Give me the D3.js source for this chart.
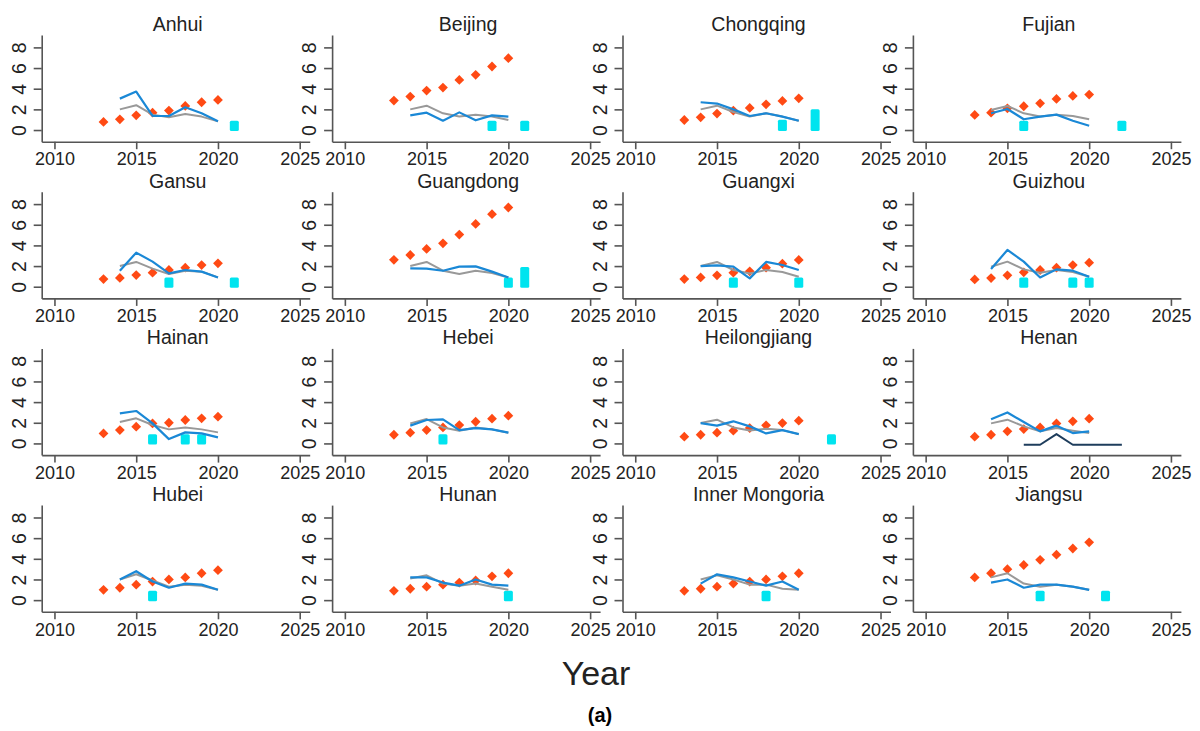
<!DOCTYPE html>
<html>
<head>
<meta charset="utf-8">
<script src="https://cdn.jsdelivr.net/npm/d3@7"></script>
<style>
  html, body { margin: 0; padding: 0; background: #fff; }
  svg { display: block; font-family: Arial, "Liberation Sans", Helvetica, sans-serif; }
</style>
</head>
<body>
<svg id="chart" width="1200" height="731"></svg>
<script>
// Provinces, one small multiple each (4 x 4 grid)
const provinces = [
  "Anhui", "Beijing", "Chongqing", "Fujian",
  "Gansu", "Guangdong", "Guangxi", "Guizhou",
  "Hainan", "Hebei", "Heilongjiang", "Henan",
  "Hubei", "Hunan", "Inner Mongoria", "Jiangsu"
];

// Years for the diamond series and for the two line series
const diamondYears = [2013, 2014, 2015, 2016, 2017, 2018, 2019, 2020];
const lineYears = [2014, 2015, 2016, 2017, 2018, 2019, 2020];

// Orange diamonds
const diamondValues = [
  [0.78, 1.04, 1.42, 1.68, 1.88, 2.33, 2.69, 2.91],
  [2.85, 3.24, 3.82, 4.11, 4.85, 5.34, 6.15, 6.96],
  [0.97, 1.23, 1.59, 1.88, 2.14, 2.49, 2.82, 3.07],
  [1.46, 1.68, 2.10, 2.30, 2.59, 3.01, 3.30, 3.43],
  [0.74, 0.85, 1.13, 1.36, 1.62, 1.84, 2.10, 2.27],
  [2.60, 3.07, 3.66, 4.20, 5.05, 6.08, 7.02, 7.67],
  [0.74, 0.90, 1.10, 1.36, 1.49, 1.84, 2.23, 2.59],
  [0.71, 0.84, 1.10, 1.39, 1.62, 1.84, 2.10, 2.33],
  [0.97, 1.29, 1.62, 1.94, 2.00, 2.27, 2.43, 2.59],
  [0.84, 1.04, 1.29, 1.55, 1.78, 2.10, 2.40, 2.69],
  [0.65, 0.84, 1.04, 1.23, 1.49, 1.75, 1.97, 2.20],
  [0.65, 0.84, 1.17, 1.39, 1.55, 1.94, 2.14, 2.40],
  [1.00, 1.20, 1.50, 1.80, 2.00, 2.20, 2.60, 2.90],
  [0.90, 1.10, 1.30, 1.50, 1.70, 1.90, 2.30, 2.60],
  [0.90, 1.10, 1.30, 1.60, 1.80, 2.00, 2.30, 2.60],
  [2.20, 2.60, 3.00, 3.40, 3.90, 4.40, 5.00, 5.60]
];

// Blue line
const blueValues = [
  [3.04, 3.72, 1.36, 1.36, 2.20, 1.62, 0.84],
  [1.42, 1.68, 0.90, 1.71, 0.94, 1.42, 1.30],
  [2.69, 2.56, 2.00, 1.36, 1.62, 1.30, 0.90],
  [1.62, 2.04, 1.04, 1.30, 1.49, 0.90, 0.42],
  [1.55, 3.30, 2.43, 1.29, 1.62, 1.46, 0.90],
  [1.78, 1.75, 1.55, 1.94, 1.97, 1.46, 0.90],
  [2.00, 2.07, 1.94, 0.81, 2.40, 2.10, 1.62],
  [1.72, 3.56, 2.43, 0.90, 1.68, 1.55, 0.97],
  [2.91, 3.14, 1.94, 0.42, 1.07, 0.97, 0.58],
  [1.72, 2.27, 2.33, 1.29, 1.49, 1.36, 1.04],
  [1.97, 1.72, 2.14, 1.65, 0.97, 1.29, 0.90],
  [2.33, 3.00, 2.07, 1.17, 1.72, 1.00, 1.17],
  [2.00, 2.80, 1.80, 1.20, 1.60, 1.50, 1.00],
  [2.20, 2.20, 1.70, 1.40, 2.00, 1.50, 1.40],
  [1.60, 2.50, 2.20, 1.80, 1.40, 1.80, 1.00],
  [1.70, 2.00, 1.20, 1.50, 1.50, 1.30, 1.00]
];

// Gray line
const grayValues = [
  [2.00, 2.40, 1.49, 1.23, 1.55, 1.30, 0.84],
  [2.00, 2.36, 1.62, 1.30, 1.49, 1.30, 0.97],
  [2.00, 2.36, 1.75, 1.30, 1.62, 1.30, 0.90],
  [1.94, 2.33, 1.62, 1.30, 1.49, 1.36, 1.04],
  [2.00, 2.40, 1.75, 1.23, 1.55, 1.46, 0.90],
  [2.00, 2.40, 1.55, 1.23, 1.55, 1.33, 0.90],
  [2.00, 2.40, 1.62, 1.29, 1.62, 1.42, 0.97],
  [1.94, 2.43, 1.68, 1.36, 1.62, 1.42, 0.97],
  [2.07, 2.43, 1.78, 1.36, 1.55, 1.36, 1.07],
  [1.94, 2.36, 1.55, 1.23, 1.55, 1.36, 1.04],
  [1.97, 2.30, 1.55, 1.26, 1.42, 1.29, 0.90],
  [1.94, 2.30, 1.65, 1.17, 1.49, 1.23, 1.00],
  [2.00, 2.50, 1.90, 1.30, 1.50, 1.40, 1.00],
  [2.10, 2.40, 1.60, 1.40, 1.60, 1.30, 1.00],
  [2.00, 2.40, 2.00, 1.50, 1.50, 1.10, 1.00],
  [2.20, 2.60, 1.60, 1.30, 1.50, 1.30, 1.00]
];

// Cyan bars: years and heights per province
const barYears = [
  [2021], [2019, 2021], [2019, 2021], [2016, 2022],
  [2017, 2021], [2020, 2021], [2016, 2020], [2016, 2019, 2020],
  [2016, 2018, 2019], [2016], [2022], [],
  [2016], [2020], [2018], [2017, 2021]
];
const barValues = [
  [0.9], [0.9, 0.9], [1.0, 2.0], [0.9, 0.9],
  [0.9, 0.9], [0.9, 1.9], [0.9, 0.9], [0.9, 0.9, 0.9],
  [0.9, 0.9, 0.9], [0.9], [0.9], [],
  [0.9], [0.9], [0.9], [0.9, 0.9]
];

// Extra dark series shown in the Henan panel only
const henanExtraYears = [2016, 2017, 2018, 2019, 2020, 2021, 2022];
const henanExtraValues = [-0.13, -0.13, 0.9, -0.13, -0.13, -0.13, -0.13];

// Axis ticks
const xTicks = [2010, 2015, 2020, 2025];
const yTicks = [0, 2, 4, 6, 8];

const COLORS = {
  diamond: "#ff4a14",
  blue: "#1a88d6",
  gray: "#999999",
  bar: "#00e4ef",
  extra: "#1e3d5c",
  axis: "#555555",
  text: "#222222"
};

const svg = d3.select("#chart");

const panelW = 268, panelH = 106.7;
const colStep = 290.4, rowStep = 156.7;
const originX = 41.7, originY = 35;

const x = d3.scaleLinear().domain([2009.22, 2025.61]).range([0, panelW]);
const y = d3.scaleLinear().domain([-1.13, 9.2]).range([panelH, 0]);

const line = d3.line().x(d => x(d[0])).y(d => y(d[1]));

provinces.forEach((name, i) => {
  const col = i % 4, row = Math.floor(i / 4);
  const g = svg.append("g")
    .attr("transform", `translate(${originX + col * colStep},${originY + row * rowStep})`);

  // axes
  const xAxis = g.append("g")
    .attr("transform", `translate(0,${panelH})`)
    .call(d3.axisBottom(x).tickValues(xTicks).tickFormat(d3.format("d")).tickSize(7.5).tickSizeOuter(0));
  const yAxis = g.append("g")
    .call(d3.axisLeft(y).tickValues(yTicks).tickSize(8).tickSizeOuter(0));

  [xAxis, yAxis].forEach(a => {
    a.select(".domain").attr("stroke", COLORS.axis).attr("stroke-width", 1.6);
    a.selectAll(".tick line").attr("stroke", COLORS.axis).attr("stroke-width", 1.6);
    a.selectAll(".tick text").attr("fill", COLORS.text).attr("font-size", 18)
      .attr("font-family", "Arial, 'Liberation Sans', sans-serif");
  });
  xAxis.selectAll(".tick text").attr("y", 11).attr("dy", "0.71em");
  yAxis.selectAll(".tick text")
    .attr("x", null).attr("dy", null)
    .attr("text-anchor", "middle")
    .attr("transform", "translate(-15,0) rotate(-90)")
    .attr("y", 0)
    .attr("dy", "-0.05em")
    .attr("font-size", 19.5);

  // title
  g.append("text")
    .attr("x", panelW / 2 + 2)
    .attr("y", y(0) - 99)
    .attr("text-anchor", "middle")
    .attr("font-size", 19.5)
    .attr("fill", COLORS.text)
    .text(name);

  // cyan bars
  const bars = barYears[i].map((yr, k) => [yr, barValues[i][k]]);
  g.selectAll("rect.bar").data(bars).join("rect")
    .attr("class", "bar")
    .attr("x", d => x(d[0]) - 4.5)
    .attr("width", 9)
    .attr("y", d => y(d[1]))
    .attr("height", d => y(0) - y(d[1]) + 1)
    .attr("rx", 1.5)
    .attr("fill", COLORS.bar);

  // orange diamonds
  const pts = diamondYears.map((yr, k) => [yr, diamondValues[i][k]]);
  g.selectAll("path.dm").data(pts).join("path")
    .attr("class", "dm")
    .attr("d", d3.symbol(d3.symbolSquare, 48))
    .attr("transform", d => `translate(${x(d[0])},${y(d[1])}) rotate(45)`)
    .attr("fill", COLORS.diamond);

  // gray and blue lines
  g.append("path")
    .datum(lineYears.map((yr, k) => [yr, grayValues[i][k]]))
    .attr("d", line).attr("fill", "none")
    .attr("stroke", COLORS.gray).attr("stroke-width", 2)
    .attr("stroke-linejoin", "round");
  g.append("path")
    .datum(lineYears.map((yr, k) => [yr, blueValues[i][k]]))
    .attr("d", line).attr("fill", "none")
    .attr("stroke", COLORS.blue).attr("stroke-width", 2.2)
    .attr("stroke-linejoin", "round");

  if (name === "Henan") {
    g.append("path")
      .datum(henanExtraYears.map((yr, k) => [yr, henanExtraValues[k]]))
      .attr("d", line).attr("fill", "none")
      .attr("stroke", COLORS.extra).attr("stroke-width", 2)
      .attr("stroke-linejoin", "round");
  }
});

// shared x-axis title and sub-figure label
svg.append("text")
  .attr("x", 596).attr("y", 685)
  .attr("text-anchor", "middle")
  .attr("font-size", 34)
  .attr("fill", COLORS.text)
  .text("Year");

svg.append("text")
  .attr("x", 600).attr("y", 722)
  .attr("text-anchor", "middle")
  .attr("font-size", 20)
  .attr("font-weight", "bold")
  .attr("fill", "#000")
  .text("(a)");
</script>
</body>
</html>
